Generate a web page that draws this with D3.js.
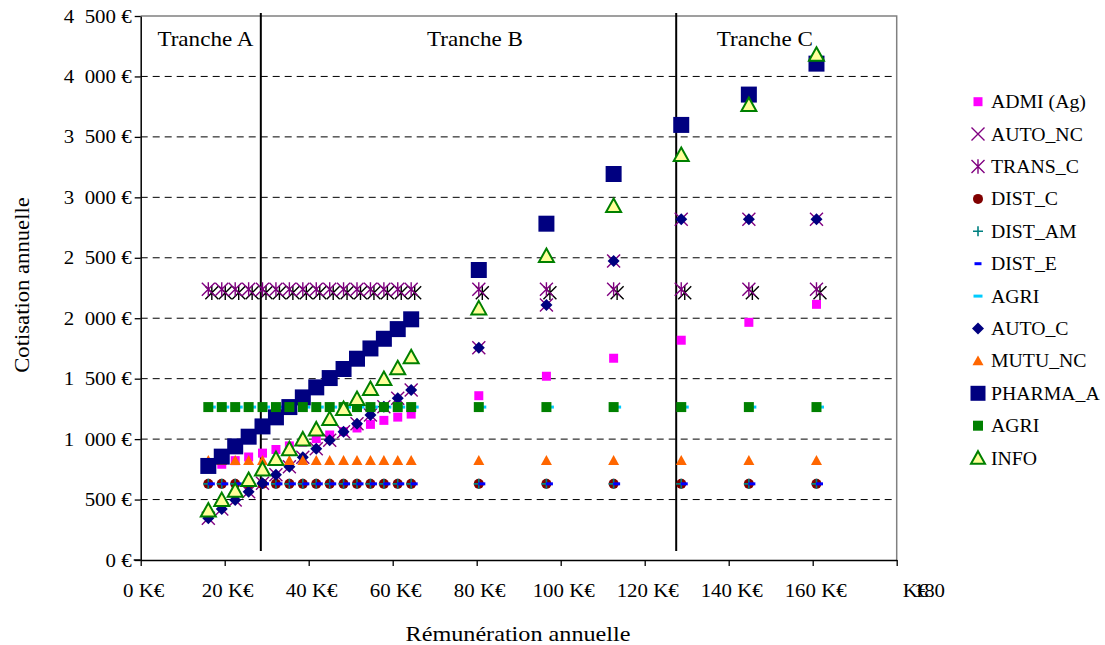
<!DOCTYPE html>
<html><head><meta charset="utf-8">
<script src="https://cdn.jsdelivr.net/npm/d3@7"></script>
<style>
body{margin:0;background:#fff}
svg{display:block}
</style>
</head><body>
<svg id="chart" width="1105" height="645"></svg>
<script>
// ---------- DATA ----------
const salaryK = [16.1, 19.3, 22.5, 25.7, 29.0, 32.2, 35.4, 38.6, 41.8, 45.0, 48.3, 51.5, 54.7, 57.9, 61.2, 64.4, 80.5, 96.6, 112.6, 128.7, 144.8, 160.9];
const admiAg  = [760, 792, 822, 852, 884, 914, 944, 974, 1004, 1034, 1062, 1092, 1122, 1155, 1182, 1207, 1359, 1520, 1669, 1818, 1966, 2115];
const autoNc  = [345, 422, 496, 565, 634, 706, 772, 850, 920, 990, 1061, 1128, 1200, 1268, 1338, 1406, 1756, 2110, 2474, 2818, 2818, 2818];
const transC  = [2239, 2239, 2239, 2239, 2239, 2239, 2239, 2239, 2239, 2239, 2239, 2239, 2239, 2239, 2239, 2239, 2239, 2239, 2239, 2239, 2239, 2239];
const distC   = [630, 630, 630, 630, 630, 630, 630, 630, 630, 630, 630, 630, 630, 630, 630, 630, 630, 630, 630, 630, 630, 630];
const distAm  = [630, 630, 630, 630, 630, 630, 630, 630, 630, 630, 630, 630, 630, 630, 630, 630, 630, 630, 630, 630, 630, 630];
const distE   = [630, 630, 630, 630, 630, 630, 630, 630, 630, 630, 630, 630, 630, 630, 630, 630, 630, 630, 630, 630, 630, 630];
const agriDash= [1265, 1265, 1265, 1265, 1265, 1265, 1265, 1265, 1265, 1265, 1265, 1265, 1265, 1265, 1265, 1265, 1265, 1265, 1265, 1265, 1265, 1265];
const autoC   = [345, 422, 496, 565, 634, 706, 772, 850, 920, 990, 1061, 1128, 1200, 1268, 1338, 1406, 1756, 2110, 2474, 2818, 2818, 2818];
const mutuNc  = [823, 823, 823, 823, 823, 823, 823, 823, 823, 823, 823, 823, 823, 823, 823, 823, 823, 823, 823, 823, 823, 823];
const pharmaA = [778, 855, 940, 1020, 1105, 1180, 1265, 1345, 1428, 1505, 1580, 1665, 1750, 1830, 1910, 1991, 2399, 2782, 3193, 3599, 3850, 4106];
const agriSq  = [1265, 1265, 1265, 1265, 1265, 1265, 1265, 1265, 1265, 1265, 1265, 1265, 1265, 1265, 1265, 1265, 1265, 1265, 1265, 1265, 1265, 1265];
const info    = [410, 496, 573, 662, 750, 836, 916, 998, 1081, 1166, 1249, 1332, 1415, 1497, 1586, 1677, 2082, 2515, 2929, 3350, 3764, 4180];

const seriesNames = ["ADMI (Ag)", "AUTO_NC", "TRANS_C", "DIST_C", "DIST_AM", "DIST_E", "AGRI", "AUTO_C", "MUTU_NC", "PHARMA_A", "AGRI", "INFO"];
const xTicks = [0, 20, 40, 60, 80, 100, 120, 140, 160, 180];
const yTicks = [0, 500, 1000, 1500, 2000, 2500, 3000, 3500, 4000, 4500];
const trancheBounds = [28.6, 127.5];
const trancheLabels = ["Tranche A", "Tranche B", "Tranche C"];
const xTitle = "Rémunération annuelle";
const yTitle = "Cotisation annuelle";

// ---------- LAYOUT ----------
const SERIF = '"Liberation Serif", serif';
const svg = d3.select("#chart");
const x = d3.scaleLinear().domain([0, 180]).range([140.7, 896.7]);
const y = d3.scaleLinear().domain([0, 4500]).range([560, 16]);
const FONT = 19;
const SX = 1.1; // horizontal stretch of the original's text

function txt(parent, tx, ty, str, size, anchor, sx, extra) {
  return parent.append("text")
    .attr("transform", `translate(${tx},${ty})${extra || ""} scale(${sx || SX},1)`)
    .attr("text-anchor", anchor || "start")
    .attr("font-family", "Liberation Serif")
    .style("font-family", SERIF).attr("font-size", size).attr("fill", "#000")
    .text(str);
}

const styles = [
  {shape: "square", size: 9, fill: "#FF00FF"},
  {shape: "x", size: 13, stroke: "#800080", sw: 1.4},
  {shape: "asterisk", size: 13, stroke: "#800080", sw: 1.4, shadow: true},
  {shape: "circle", size: 10, fill: "#800000"},
  {shape: "plus", size: 10, stroke: "#008080", sw: 1.6},
  {shape: "dash", size: 7, fill: "#0000FF", dx: 3},
  {shape: "dash", size: 9, fill: "#00CCFF", dx: 3},
  {shape: "diamond", size: 12, fill: "#000080"},
  {shape: "triangle", size: 11, fill: "#FF6600"},
  {shape: "square", size: 16, fill: "#000080"},
  {shape: "square", size: 10, fill: "#008000"},
  {shape: "triangle", size: 15, fill: "#FFFF99", stroke: "#008000", sw: 2}
];
const values = [admiAg, autoNc, transC, distC, distAm, distE, agriDash, autoC, mutuNc, pharmaA, agriSq, info];
const series = seriesNames.map((n, i) => Object.assign({name: n, values: values[i]}, styles[i]));

function shapePath(shape, s) {
  const r = s / 2;
  switch (shape) {
    case "x": return `M${-r},${-r}L${r},${r}M${-r},${r}L${r},${-r}`;
    case "asterisk": return `M${-r},${-r}L${r},${r}M${-r},${r}L${r},${-r}M0,${-r * 1.1}L0,${r * 1.1}`;
    case "plus": return `M${-r},0L${r},0M0,${-r}L0,${r}`;
    case "diamond": return `M0,${-r}L${r},0L0,${r}L${-r},0Z`;
    case "triangle": { const h = s * 0.9; return `M0,${-h * 0.55}L${r},${h * 0.45}L${-r},${h * 0.45}Z`; }
    case "dash": return `M${-r},-1.5L${r},-1.5L${r},1.5L${-r},1.5Z`;
    case "circle": return `M${r},0A${r},${r} 0 1,1 ${-r},0A${r},${r} 0 1,1 ${r},0Z`;
    default: return `M${-r},${-r}L${r},${-r}L${r},${r}L${-r},${r}Z`;
  }
}
function drawMarker(g, sr, cx, cy, isLegend) {
  const dx = isLegend ? 0 : (sr.dx || 0);
  const size = isLegend && sr.size > 14 ? sr.size - 1 : sr.size;
  if (sr.shadow && !isLegend) {
    g.append("path").attr("d", shapePath(sr.shape, size))
      .attr("transform", `translate(${cx + dx + 3.5},${cy + 3.5})`)
      .attr("fill", "none").attr("stroke", "#000").attr("stroke-width", sr.sw || 1.4);
  }
  const p = g.append("path").attr("d", shapePath(sr.shape, size))
    .attr("transform", `translate(${cx + dx},${cy})`);
  const lineShape = ["x", "asterisk", "plus"].includes(sr.shape);
  if (lineShape) {
    p.attr("fill", "none").attr("stroke", sr.stroke).attr("stroke-width", sr.sw);
  } else {
    p.attr("fill", sr.fill);
    if (sr.stroke) p.attr("stroke", sr.stroke).attr("stroke-width", sr.sw).attr("stroke-linejoin", "miter");
  }
}

// gridlines
const grid = svg.append("g");
yTicks.filter(v => v > 0 && v < 4500).forEach(v => {
  grid.append("line").attr("x1", x(0)).attr("x2", x(180)).attr("y1", y(v)).attr("y2", y(v))
    .attr("stroke", "#000").attr("stroke-width", 1).attr("stroke-dasharray", "7,5");
});
// plot border (top & right)
svg.append("path").attr("d", `M${x(0)},${y(4500)}H${x(180)}V${y(0)}`)
  .attr("fill", "none").attr("stroke", "#808080").attr("stroke-width", 1.5);

// tranche lines
trancheBounds.forEach(b => {
  svg.append("line").attr("x1", x(b)).attr("x2", x(b)).attr("y1", 13).attr("y2", 551)
    .attr("stroke", "#000").attr("stroke-width", 2);
});
const trancheLabelX = [15.4, 79.6, 148.6];
trancheLabels.forEach((t, i) => txt(svg, x(trancheLabelX[i]), 46, t, 21, "middle"));

// axes
const yFmt = d => {
  const s = String(d);
  return (d >= 1000 ? s.slice(0, -3) + "\u2002" + s.slice(-3) : s) + " €";
};
const yAxis = d3.axisLeft(y).tickValues(yTicks).tickSizeInner(6).tickSizeOuter(0).tickFormat("");
const gy = svg.append("g").attr("transform", `translate(${x(0)},0)`).call(yAxis);
gy.select(".domain").attr("stroke", "#000").attr("stroke-width", 1.5);
gy.selectAll(".tick line").attr("stroke", "#000").attr("stroke-width", 1.3);
yTicks.forEach(v => txt(svg, x(0) - 9, y(v) + 6.5, yFmt(v), FONT, "end"));

const xAxis = d3.axisBottom(x).tickValues(xTicks).tickSizeInner(6).tickSizeOuter(0).tickFormat("");
const gx = svg.append("g").attr("transform", `translate(0,${y(0)})`).call(xAxis);
gx.select(".domain").attr("stroke", "#000").attr("stroke-width", 1.5);
gx.selectAll(".tick line").attr("stroke", "#000").attr("stroke-width", 1.3);
xTicks.slice(0, -1).forEach(v => txt(svg, x(v) + 3, 597, v + " K€", FONT, "middle"));
// last, garbled label as in the original (overlapping "K€" and "180")
txt(svg, x(180) + 6, 597, "K€", FONT, "start");
txt(svg, x(180) + 17, 597, String(xTicks[xTicks.length - 1]), FONT, "start");
svg.append("line").attr("x1", x(0) - 7).attr("x2", x(0)).attr("y1", y(0)).attr("y2", y(0)).attr("stroke", "#000").attr("stroke-width", 1.5);

// titles
txt(svg, 518, 641, xTitle, 22, "middle");
txt(svg, 29, 285, yTitle, 22, "middle", 1.03, " rotate(-90)");

// series
const plot = svg.append("g");
series.forEach(sr => {
  const g = plot.append("g");
  sr.values.forEach((v, i) => drawMarker(g, sr, x(salaryK[i]), y(v), false));
});

// legend
const leg = svg.append("g");
series.forEach((sr, i) => {
  const cy = 101.7 + i * 32.4;
  drawMarker(leg, sr, 978, cy, true);
  txt(leg, 991, cy + 6.5, sr.name, FONT, "start", 1.04);
});
</script>
</body></html>
